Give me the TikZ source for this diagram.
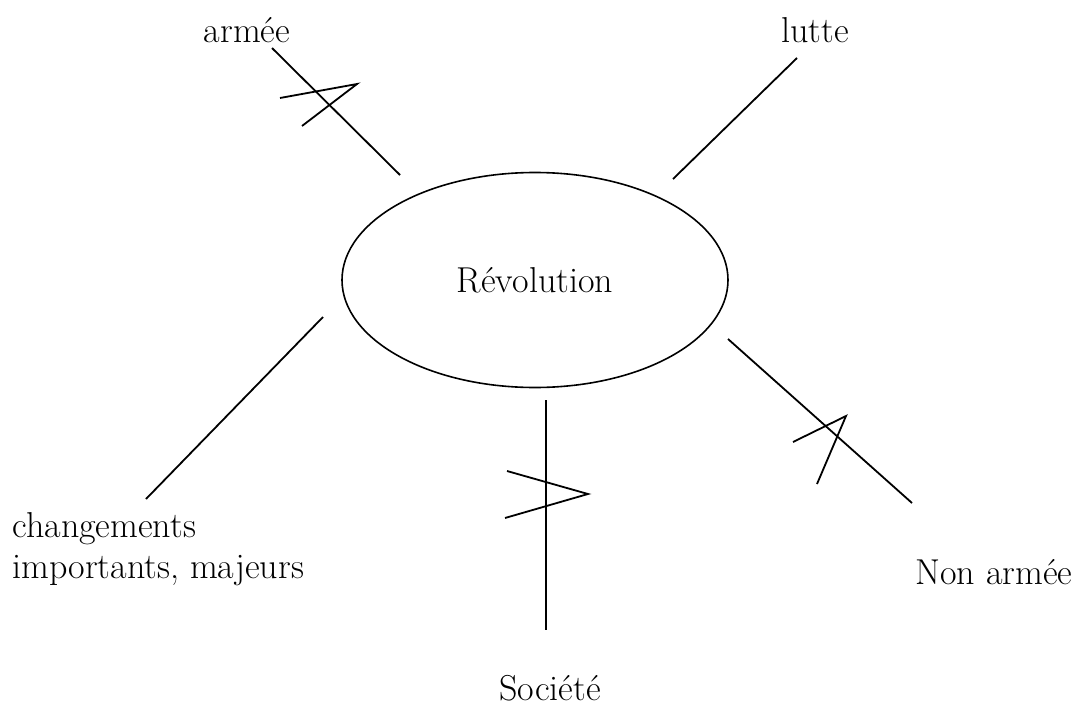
\documentclass[tikz,border=0pt]{standalone}
\usepackage{tikz}
\usetikzlibrary{shapes.geometric, positioning}
\tikzset{
    word/.style={font=\fontsize{18}{20.5}\selectfont, inner sep=0pt},
    hub/.style={draw, ellipse, line width=0.8pt, minimum width=193pt, minimum height=107.5pt, font=\fontsize{18}{20.5}\selectfont},
    link/.style={line width=0.9pt, line join=miter}
}

\begin{document}
\begin{tikzpicture}[x=0.5pt, y=-0.5pt]
    \useasboundingbox (0,0) rectangle (1077,707);
    \node (rev) [hub] at (535,280) {Révolution};
    \node (armee) [word] at (247,30) {armée};
    \node (lutte) [word] at (815,30) {lutte};
    \node (chg) [word, anchor=west, align=left] at (12,549) {changements\\importants, majeurs};
    \node (nonarmee) [word] at (994,572) {Non armée};
    \node (societe) [word] at (550,688) {Société};
    % free ends of the spokes
    \coordinate (armee-a) at (272,48);
    \coordinate (armee-b) at (400,175);
    \coordinate (lutte-a) at (797,58);
    \coordinate (lutte-b) at (673,179);
    \coordinate (chg-a) at (323,317);
    \coordinate (chg-b) at (146,499);
    \coordinate (non-a) at (728,339);
    \coordinate (non-b) at (912,503);
    \coordinate (soc-a) at (546,400);
    \coordinate (soc-b) at (546,630);
    \draw [link] (armee-a) -- (armee-b);
    \draw [link] (lutte-a) -- (lutte-b);
    \draw [link] (chg-a) -- (chg-b);
    \draw [link] (non-a) -- (non-b);
    \draw [link] (soc-a) -- (soc-b);
    % zigzag marks
    \draw [link] (280,98) -- (357,84) -- (302,126);
    \draw [link] (507,471) -- (588,494) -- (505,518);
    \draw [link] (793,442) -- (846,416) -- (817,484);
\end{tikzpicture}
\end{document}
